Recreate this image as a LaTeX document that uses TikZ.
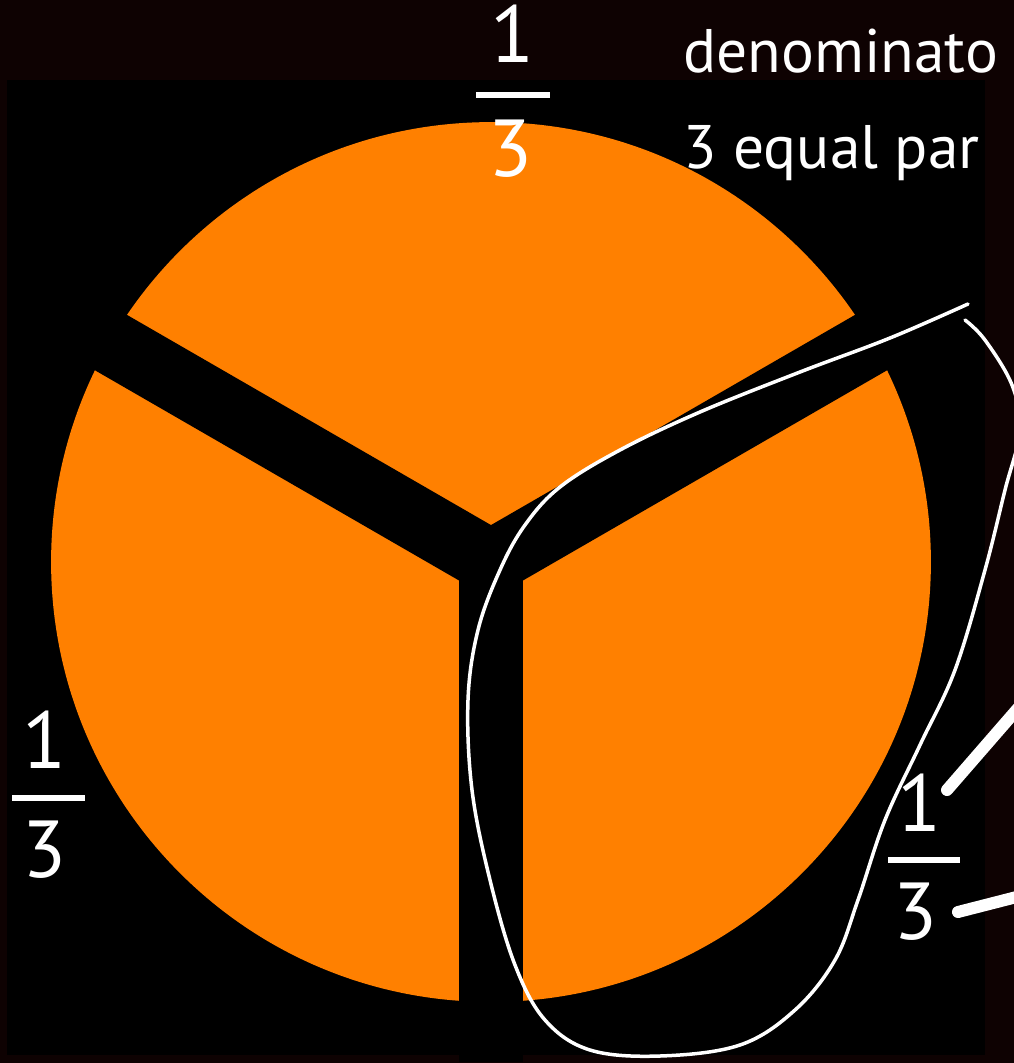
\documentclass[tikz,border=0pt]{standalone}
\usepackage{fontspec}
\setmainfont{PT Sans}
\usetikzlibrary{calc}
\definecolor{pieorange}{RGB}{255,128,0}
\definecolor{bgdark}{RGB}{14,2,2}

\tikzset{
  thirdtxt/.style={text=white,inner sep=0pt,font=\fontsize{46}{52}\selectfont},
  notetxt/.style={text=white,inner sep=0pt,anchor=base west,font=\fontsize{35}{42}\selectfont},
  piegap/.style={draw=black,line width=1.28cm},
  fracbar/.style={white,line width=0.12cm},
  loopline/.style={white,line width=0.07cm,line join=round,line cap=round},
  pointer/.style={white,line width=0.24cm,line cap=round}
}

\begin{document}
\begin{tikzpicture}[x=0.02cm,y=-0.02cm]

  % --- background ---
  \fill[bgdark] (0,0) rectangle (1014,1063);
  \useasboundingbox (0,0) rectangle (1014,1063);

  \begin{scope}
    \clip (0,0) rectangle (1014,1063);
    \fill[black] (7,80) rectangle (985,1055);

    % --- pie in three parts ---
    \coordinate (o) at (491,562);
    \fill[pieorange] (o) circle [radius=8.8cm];
    \draw[piegap] (o) -- ++(-433,-250);
    \draw[piegap] (o) -- ++(433,-250);
    \draw[piegap] (o) -- ++(0,500);

    % --- top fraction ---
    \node[thirdtxt] (topnum) at (513,34) {1};
    \draw[fracbar] (476,95) -- (550,95);
    \node[thirdtxt] (topden) at (511,149) {3};

    % --- note ---
    \node[notetxt] (denom) at (683,72) {denominato};
    \node[notetxt] (parts) at (683,168) {3 equal par};

    % --- left fraction ---
    \node[thirdtxt] (leftnum) at (45,740) {1};
    \draw[fracbar] (12,798) -- (85,798);
    \node[thirdtxt] (leftden) at (45,850) {3};

    % --- right fraction ---
    \node[thirdtxt] (rightnum) at (920,803) {1};
    \draw[fracbar] (888,860) -- (960,860);
    \node[thirdtxt] (rightden) at (916,912) {3};

    % pointers from the right fraction
    \coordinate (ptrA) at (947,790);
    \coordinate (ptrAend) at (1040,683);
    \coordinate (ptrB) at (958,912);
    \coordinate (ptrBend) at (1040,891);
    \draw[pointer] (ptrA) -- (ptrAend);
    \draw[pointer] (ptrB) -- (ptrBend);

    % hand drawn loop round one third
    \draw[loopline] plot[smooth,tension=0.6] coordinates {
      (968,304) (890,338) (800,372) (700,412) (620,450) (560,487)
      (525,525) (500,570) (478,630) (468,700) (472,790) (490,880)
      (515,965) (545,1020) (590,1050) (660,1056) (740,1045) (795,1010)
      (835,960) (858,900) (885,820) (920,745) (955,670) (985,570)
      (1005,490) (1020,430) (1012,385) (985,340) (965,320)};
  \end{scope}

\end{tikzpicture}
\end{document}
